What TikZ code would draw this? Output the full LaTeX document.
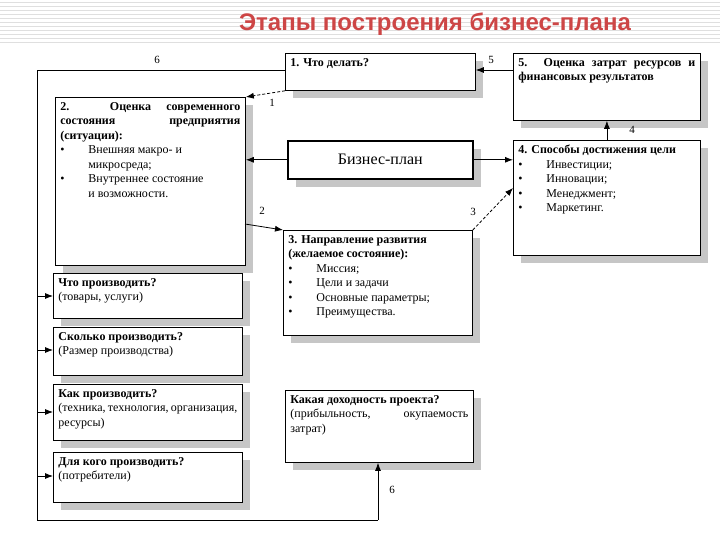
\documentclass[tikz,border=0pt]{standalone}
\usepackage{fontspec}
\setmainfont{Liberation Serif}
\newfontfamily\titlefont{Liberation Sans}
\usetikzlibrary{shadows,arrows.meta}
\definecolor{ttl}{RGB}{205,70,70}
\tikzset{
 bx/.style={draw,thick,fill=white,anchor=north west,inner sep=5pt,font=\fontsize{12}{14.5}\selectfont,
   drop shadow={shadow xshift=8pt,shadow yshift=-8pt,fill=gray!45,opacity=1}},
 ar/.style={-{Latex[length=8pt,width=6pt]},thick},
 lbl/.style={font=\fontsize{11}{13}\selectfont},
 ln/.style={thick}
}
\newcommand{\bl}{\makebox[28pt][l]{\textbullet}}
\newcommand{\tbox}[3]{\parbox[c][#1][t]{#2}{\setlength{\parskip}{0pt}#3}}
\begin{document}
\begin{tikzpicture}[x=1pt,y=-1pt]
\useasboundingbox (0,0) rectangle (720,540);
\fill[white] (0,0) rectangle (720,540);
\foreach \yy in {2,6,...,42} \draw[gray!25,line width=0.4pt] (0,\yy) -- (720,\yy);
\node[font=\titlefont\bfseries\fontsize{24}{28}\selectfont,text=ttl] (title) at (435,24) {Этапы построения бизнес-плана};

\node[bx] (b1) at (285,53) {\tbox{27pt}{180pt}{\textbf{1. Что делать?}}};
\node[bx] (b5) at (513,53) {\tbox{57pt}{177pt}{\textbf{5. Оценка затрат ресурсов и финансовых результатов}}};
\node[bx] (b2) at (55,97) {\tbox{158pt}{180pt}{\textbf{2. Оценка современного состояния предприятия (ситуации):}\par
\bl Внешняя макро- и\par\hspace*{28pt}микросреда;\par
\bl Внутреннее состояние\par\hspace*{28pt}и возможности.}};
\node[bx,line width=1.6pt,minimum width=185,minimum height=38,align=center,font=\fontsize{16}{19}\selectfont] (bp) at (287,140) {Бизнес-план};
\node[bx] (b4) at (513,140) {\tbox{105pt}{177pt}{\textbf{4. Способы достижения цели}\par
\bl Инвестиции;\par\bl Инновации;\par\bl Менеджмент;\par\bl Маркетинг.}};
\node[bx] (b3) at (283,230) {\tbox{95pt}{179pt}{\textbf{3. Направление развития}\par\textbf{(желаемое состояние):}\par
\bl Миссия;\par\bl Цели и задачи\par\bl Основные параметры;\par\bl Преимущества.}};
\node[bx] (w1) at (53,273) {\tbox{35pt}{179pt}{\textbf{Что производить?}\par(товары, услуги)}};
\node[bx] (w2) at (53,327) {\tbox{38pt}{179pt}{\textbf{Сколько производить?}\par(Размер производства)}};
\node[bx] (w3) at (53,384) {\tbox{46pt}{179pt}{\textbf{Как производить?}\par(техника, технология, организация, ресурсы)}};
\node[bx] (w4) at (53,452) {\tbox{40pt}{179pt}{\textbf{Для кого производить?}\par(потребители)}};
\node[bx] (k) at (285,390) {\tbox{62pt}{178pt}{\textbf{Какая доходность проекта?}\par(прибыльность, окупаемость затрат)}};

\coordinate (tl) at (37,70);
\coordinate (bl) at (37,520);
\coordinate (br) at (378,520);
\draw[ln] (b1.west |- 0,70) -- (tl) -- (bl) -- (br);
\draw[ar] (br) -- (k.south -| br);
\foreach \w/\yy in {w1/296,w2/350,w3/412,w4/476}{
 \coordinate (c\w) at (37,\yy);
 \draw[ar] (c\w) -- (\w.west |- c\w);
}
\node[lbl] (l6a) at (157,60) {6};
\node[lbl] (l6b) at (392,490) {6};
\draw[ar,densely dashed] (b1.south west) -- (b2.north east);
\node[lbl] (l1) at (272,103) {1};
\draw[ar] (bp.west) -- (b2.east |- bp.west);
\draw[ar] (bp.east) -- (b4.west |- bp.east);
\coordinate (s2) at (245,224);
\draw[ar] (s2) -- (b3.north west);
\node[lbl] (l2) at (262,211) {2};
\coordinate (e3) at (513,188);
\draw[ar,densely dashed] (b3.north east) -- (e3);
\node[lbl] (l3) at (473,212) {3};
\draw[ar] (b4.north) -- (b5.south);
\node[lbl] (l4) at (632,130) {4};
\draw[ar] (b5.west |- 0,70) -- (b1.east |- 0,70);
\node[lbl] (l5) at (491,60) {5};
\end{tikzpicture}
\end{document}
